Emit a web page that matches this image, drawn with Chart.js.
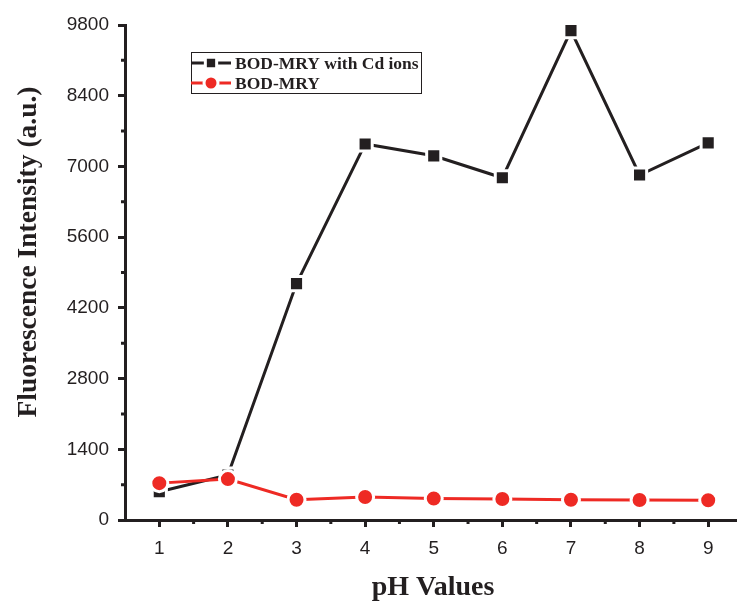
<!DOCTYPE html>
<html>
<head>
<meta charset="utf-8">
<script src="https://cdn.jsdelivr.net/npm/chart.js@4.4.1/dist/chart.umd.min.js"></script>
<style>
  html, body { margin: 0; padding: 0; background: #fff; }
  #wrap { width: 737px; height: 601px; }
</style>
</head>
<body>
<div id="wrap"><canvas id="phChart" width="737" height="601"></canvas></div>
<script>
// data
const phValues = [1, 2, 3, 4, 5, 6, 7, 8, 9];
const withCd = [560, 890, 4680, 7445, 7210, 6775, 9690, 6830, 7465];
const bodMry = [730, 810, 400, 455, 425, 415, 400, 395, 390];
const yTicks = [0, 1400, 2800, 4200, 5600, 7000, 8400, 9800];
const xMinor = [1.5, 2.5, 3.5, 4.5, 5.5, 6.5, 7.5, 8.5];
const yMinor = [700, 2100, 3500, 4900, 6300, 7700, 9100];
const xTitle = 'pH Values';
const yTitle = 'Fluorescence Intensity (a.u.)';

const INK = '#231f20';
const RED = '#ee2a24';
const SERIF = '"Liberation Serif", "Times New Roman", serif';
const SANS = '"Liberation Sans", Arial, sans-serif';

// small tick marks between the labelled ones
const minorTicks = {
  id: 'minorTicks',
  afterDraw(chart) {
    const ctx = chart.ctx;
    const x = chart.scales.x, y = chart.scales.y;
    ctx.save();
    ctx.strokeStyle = INK;
    ctx.lineWidth = 3;
    ctx.beginPath();
    xMinor.forEach(v => {
      const px = x.getPixelForValue(v);
      ctx.moveTo(px, x.top);
      ctx.lineTo(px, x.top + 4);
    });
    yMinor.forEach(v => {
      const py = y.getPixelForValue(v);
      ctx.moveTo(y.right, py);
      ctx.lineTo(y.right - 4, py);
    });
    ctx.stroke();
    ctx.restore();
  }
};

// axis titles, placed where the original has them
const axisTitles = {
  id: 'axisTitles',
  afterDraw(chart) {
    const ctx = chart.ctx;
    const a = chart.chartArea;
    ctx.save();
    ctx.fillStyle = INK;
    ctx.textAlign = 'center';
    ctx.textBaseline = 'alphabetic';
    ctx.font = 'bold 28px ' + SERIF;
    ctx.fillText(xTitle, (a.left + a.right) / 2 + 2, 595);
    ctx.translate(36, 252);
    ctx.rotate(-Math.PI / 2);
    ctx.font = 'bold 27.5px ' + SERIF;
    ctx.fillText(yTitle, 0, 0);
    ctx.restore();
  }
};

// boxed legend inside the plot
const legendMarkSize = [8, 7];
const boxLegend = {
  id: 'boxLegend',
  afterDraw(chart) {
    const ctx = chart.ctx;
    const bx = 191, by = 52, bw = 230, bh = 41;
    ctx.save();
    ctx.strokeStyle = INK;
    ctx.lineWidth = 1;
    ctx.strokeRect(bx + 0.5, by + 0.5, bw, bh);
    chart.data.datasets.forEach((ds, i) => {
      const cy = by + 11 + i * 20;
      ctx.strokeStyle = ds.borderColor;
      ctx.lineWidth = 3;
      ctx.beginPath();
      ctx.moveTo(bx, cy);
      ctx.lineTo(bx + 40, cy);
      ctx.stroke();
      ctx.fillStyle = ds.backgroundColor;
      ctx.strokeStyle = '#fff';
      ctx.lineWidth = 3;
      Chart.helpers.drawPoint(ctx, {
        pointStyle: ds.pointStyle,
        rotation: 0,
        radius: legendMarkSize[i],
        borderWidth: 3
      }, bx + 20, cy);
      ctx.fillStyle = INK;
      ctx.font = 'bold 17.5px ' + SERIF;
      ctx.textBaseline = 'middle';
      ctx.fillText(ds.label, bx + 44, cy + 1);
    });
    ctx.restore();
  }
};

new Chart(document.getElementById('phChart'), {
  type: 'line',
  data: {
    labels: phValues,
    datasets: [
      {
        label: 'BOD-MRY with Cd ions',
        data: phValues.map((p, i) => ({ x: p, y: withCd[i] })),
        borderColor: INK,
        backgroundColor: INK,
        borderWidth: 3,
        pointStyle: 'rect',
        pointRadius: 10,
        pointBorderColor: '#fff',
        pointBorderWidth: 3,
        order: 2
      },
      {
        label: 'BOD-MRY',
        data: phValues.map((p, i) => ({ x: p, y: bodMry[i] })),
        borderColor: RED,
        backgroundColor: RED,
        borderWidth: 3,
        pointStyle: 'circle',
        pointRadius: 8.5,
        pointBorderColor: '#fff',
        pointBorderWidth: 3,
        order: 1
      }
    ]
  },
  options: {
    responsive: false,
    animation: false,
    layout: { autoPadding: false, padding: { top: 25, right: 0, left: 0, bottom: 0 } },
    plugins: {
      legend: { display: false },
      tooltip: { enabled: false }
    },
    scales: {
      x: {
        type: 'linear',
        min: 0.5,
        max: 9.42,
        afterBuildTicks: s => { s.ticks = phValues.map(v => ({ value: v })); },
        afterFit: s => { s.height = 81; s.paddingLeft = 0; s.paddingRight = 0; },
        border: { display: true, width: 3, color: INK },
        grid: { display: true, drawOnChartArea: false, drawTicks: true, tickLength: 7, tickWidth: 3, tickColor: INK },
        ticks: {
          color: INK,
          padding: 10,
          font: { family: SANS, size: 19 }
        }
      },
      y: {
        min: 0,
        max: 9800,
        afterBuildTicks: s => { s.ticks = yTicks.map(v => ({ value: v })); },
        afterFit: s => { s.width = 125; },
        border: { display: true, width: 3, color: INK },
        grid: { display: true, drawOnChartArea: false, drawTicks: true, tickLength: 7, tickWidth: 3, tickColor: INK },
        ticks: {
          color: INK,
          padding: 9,
          callback: v => String(v),
          font: { family: SANS, size: 19 }
        }
      }
    }
  },
  plugins: [minorTicks, axisTitles, boxLegend]
});
</script>
</body>
</html>
